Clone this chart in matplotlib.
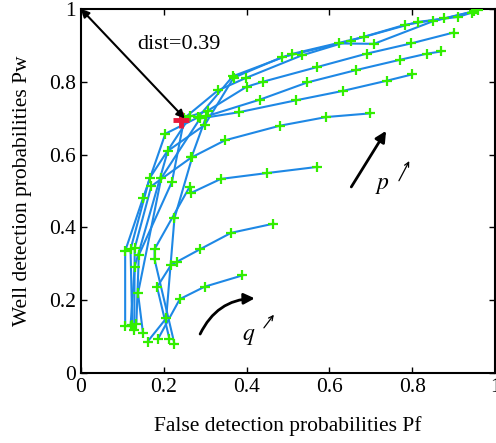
import numpy as np
import matplotlib
matplotlib.use("Agg")
import matplotlib.pyplot as plt

plt.rcParams['font.family'] = ['Liberation Serif', 'DejaVu Serif']
plt.rcParams['mathtext.fontset'] = 'stix'

# ROC-like curves, one row per p value (q grows along each row)
row1_x = [0.186, 0.239, 0.299, 0.390]
row1_y = [0.093, 0.203, 0.237, 0.268]
row2_x = [0.214, 0.184, 0.218, 0.233, 0.288, 0.363, 0.465]
row2_y = [0.093, 0.236, 0.297, 0.306, 0.340, 0.385, 0.410]
row3_x = [0.226, 0.178, 0.178, 0.263, 0.267, 0.338, 0.449, 0.571]
row3_y = [0.080, 0.312, 0.340, 0.512, 0.495, 0.533, 0.549, 0.566]
row4_x = [0.161, 0.206, 0.226, 0.269, 0.348, 0.480, 0.593, 0.699]
row4_y = [0.086, 0.150, 0.425, 0.593, 0.639, 0.679, 0.703, 0.713]
row5_x = [0.150, 0.138, 0.194, 0.288, 0.381, 0.520, 0.634, 0.740, 0.800]
row5_y = [0.110, 0.219, 0.535, 0.699, 0.716, 0.749, 0.775, 0.803, 0.820]
row6_x = [0.129, 0.130, 0.170, 0.267, 0.303, 0.433, 0.547, 0.665, 0.770, 0.836, 0.870]
row6_y = [0.118, 0.343, 0.513, 0.592, 0.705, 0.751, 0.798, 0.832, 0.860, 0.877, 0.883]
row7_x = [0.124, 0.120, 0.166, 0.264, 0.306, 0.400, 0.440, 0.570, 0.690, 0.797, 0.900]
row7_y = [0.132, 0.340, 0.535, 0.705, 0.720, 0.786, 0.800, 0.840, 0.877, 0.905, 0.935]
row8_x = [0.107, 0.107, 0.150, 0.204, 0.283, 0.367, 0.509, 0.684, 0.813, 0.911, 0.945]
row8_y = [0.129, 0.335, 0.480, 0.657, 0.702, 0.815, 0.876, 0.923, 0.964, 0.978, 0.990]
row9_x = [0.134, 0.140, 0.220, 0.250, 0.331, 0.398, 0.533, 0.652, 0.782, 0.878, 0.958]
row9_y = [0.135, 0.324, 0.525, 0.700, 0.776, 0.810, 0.872, 0.913, 0.956, 0.974, 0.996]
row10_x = [0.120, 0.130, 0.210, 0.299, 0.369, 0.485, 0.624, 0.708, 0.850, 0.950]
row10_y = [0.130, 0.292, 0.610, 0.681, 0.811, 0.867, 0.905, 0.904, 0.966, 0.993]

rows_x = [row1_x, row2_x, row3_x, row4_x, row5_x, row6_x, row7_x, row8_x, row9_x, row10_x]
rows_y = [row1_y, row2_y, row3_y, row4_y, row5_y, row6_y, row7_y, row8_y, row9_y, row10_y]

best_x, best_y = 0.243, 0.694

fig = plt.figure(figsize=(4.96, 4.43), dpi=100)
ax = fig.add_axes([0.163, 0.158, 0.835, 0.822])

for xs, ys in zip(rows_x, rows_y):
    ax.plot(xs, ys, '-', color='#1e88e5', lw=1.5, zorder=2)
for xs, ys in zip(rows_x, rows_y):
    ax.plot(xs, ys, '+', color='#33ee00', ms=7, mew=1.6, ls='none', zorder=3)

ax.plot([best_x], [best_y], '+', color='#e8193c', ms=12, mew=3.5, zorder=4)

# distance arrow
ax.annotate('', xy=(best_x + 0.008, best_y + 0.005), xytext=(0.0, 1.0),
            arrowprops=dict(arrowstyle='<|-|>', color='k', lw=1.5,
                            mutation_scale=12, shrinkA=0, shrinkB=0), zorder=5)
ax.text(0.135, 0.89, 'dist=0.39', fontsize=16)

# p arrow
ax.annotate('', xy=(0.737, 0.665), xytext=(0.653, 0.511),
            arrowprops=dict(arrowstyle='-|>', color='k', lw=2,
                            mutation_scale=16, shrinkA=0, shrinkB=0))
ax.text(0.71, 0.505, '$p$', fontsize=17)
ax.annotate('', xy=(0.793, 0.582), xytext=(0.768, 0.528),
            arrowprops=dict(arrowstyle='->', color='k', lw=0.9,
                            mutation_scale=8, shrinkA=0, shrinkB=0))

# q arrow
ax.annotate('', xy=(0.42, 0.205), xytext=(0.288, 0.107),
            arrowprops=dict(arrowstyle='-|>', color='k', lw=2,
                            mutation_scale=16, shrinkA=0, shrinkB=0,
                            connectionstyle='arc3,rad=-0.3'))
ax.text(0.39, 0.09, '$q$', fontsize=17)
ax.annotate('', xy=(0.466, 0.16), xytext=(0.442, 0.124),
            arrowprops=dict(arrowstyle='->', color='k', lw=0.9,
                            mutation_scale=8, shrinkA=0, shrinkB=0))

ax.set_xlim(0, 1)
ax.set_ylim(0, 1)
ax.set_xticks([0, 0.2, 0.4, 0.6, 0.8, 1])
ax.set_yticks([0, 0.2, 0.4, 0.6, 0.8, 1])
ax.set_xticklabels(['0', '0.2', '0.4', '0.6', '0.8', '1'])
ax.set_yticklabels(['0', '0.2', '0.4', '0.6', '0.8', '1'])
ax.tick_params(direction='in', top=True, right=True, labelsize=15.5, length=4, width=1)
for s in ax.spines.values():
    s.set_linewidth(1.5)
ax.set_xlabel('False detection probabilities Pf', fontsize=15.5, labelpad=14)
ax.set_ylabel('Well detection probabilities Pw', fontsize=15.5, labelpad=12)

fig.savefig('out.png', dpi=100)
